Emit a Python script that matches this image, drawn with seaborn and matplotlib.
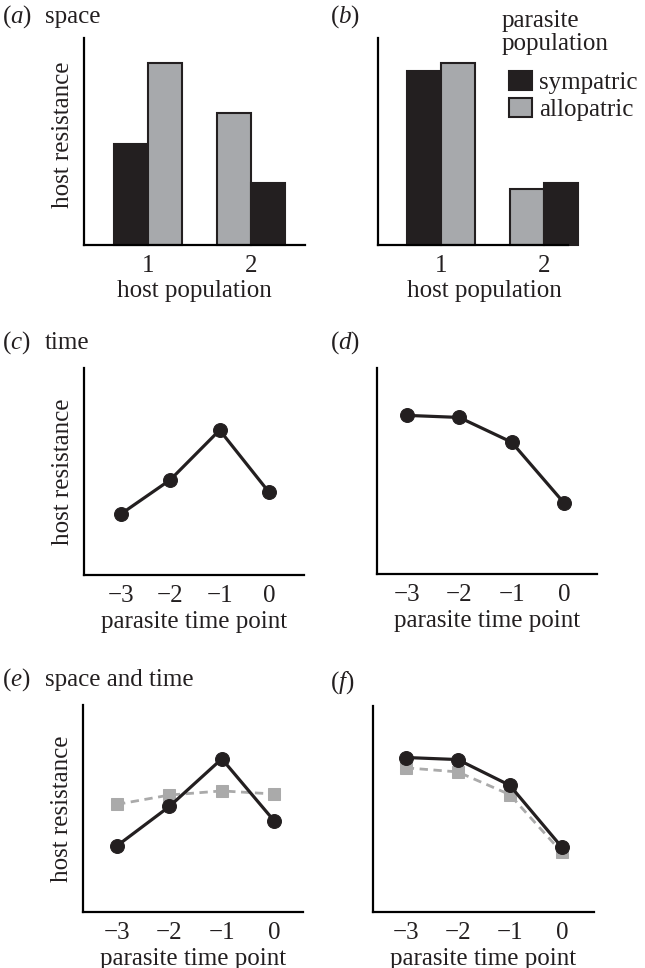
import numpy as np
import pandas as pd
import matplotlib
matplotlib.use('Agg')
import matplotlib.pyplot as plt
from matplotlib.patches import Patch
import seaborn as sns

sns.set_theme(style='ticks')
plt.rcParams['font.family'] = ['Liberation Serif', 'DejaVu Serif']
plt.rcParams['mathtext.fontset'] = 'custom'
plt.rcParams['mathtext.rm'] = 'Liberation Serif'
plt.rcParams['mathtext.it'] = 'Liberation Serif:italic'
plt.rcParams['axes.unicode_minus'] = True

# ---- data (y in 0..1 axis units) ----
host_pops = ['1', '2']
parasite_pops = ['1', '2']          # left bar = parasite pop 1, right bar = parasite pop 2
a_par1 = [0.49, 0.64]
a_par2 = [0.88, 0.30]
b_par1 = [0.84, 0.27]
b_par2 = [0.88, 0.30]

time_points = [-3, -2, -1, 0]
time_labels = ['\u22123', '\u22122', '\u22121', '0']
c_sym = [0.295, 0.46, 0.70, 0.40]
d_sym = [0.77, 0.76, 0.64, 0.345]
e_sym = [0.32, 0.51, 0.74, 0.44]
e_allo = [0.52, 0.565, 0.585, 0.57]
f_sym = [0.75, 0.74, 0.615, 0.315]
f_allo = [0.70, 0.68, 0.57, 0.29]

BLACK = '#231f20'
GREY = '#a7a9ac'
TXT = '#231f20'
FS = 18

W, H = 645, 968
fig = plt.figure(figsize=(W / 100, H / 100), dpi=100)


def box(l, r, t, b):
    return [l / W, 1 - b / H, (r - l) / W, (b - t) / H]


def style_axes(ax, ylabel=True):
    for s in ['top', 'right']:
        ax.spines[s].set_visible(False)
    for s in ['left', 'bottom']:
        ax.spines[s].set_linewidth(1.6)
        ax.spines[s].set_color('black')
    ax.set_yticks([])
    ax.tick_params(axis='x', length=0, pad=7, labelsize=FS, colors=TXT)
    ax.set_ylim(0, 1)
    ax.set_facecolor('white')
    if ylabel:
        ax.set_ylabel('host resistance', fontsize=FS, labelpad=7, color=TXT)
    else:
        ax.set_ylabel('')


def bar_panel(ax, par1, par2, ylabel):
    df = pd.DataFrame({
        'host': host_pops * 2,
        'parasite': [parasite_pops[0]] * 2 + [parasite_pops[1]] * 2,
        'resistance': par1 + par2,
    })
    sns.barplot(data=df, x='host', y='resistance', hue='parasite',
                hue_order=parasite_pops, order=host_pops, width=0.66, gap=0,
                palette=[GREY, GREY], edgecolor=BLACK, linewidth=1.5,
                legend=False, ax=ax)
    # sympatric = parasite pop matches host pop -> black
    for p_i, cont in enumerate(ax.containers):
        for h_i, bar in enumerate(cont):
            if p_i == h_i:
                bar.set_facecolor(BLACK)
            else:
                bar.set_facecolor(GREY)
            bar.set_edgecolor(BLACK)
            bar.set_clip_on(False)
    style_axes(ax, ylabel)
    ax.set_xlabel('host population', fontsize=FS, labelpad=2, color=TXT)


def line_panel(ax, sym, allo, ylabel):
    if allo is not None:
        sns.lineplot(x=time_points, y=allo, color='#aaaaaa', linewidth=2.0,
                     linestyle=(0, (3, 2)), marker='s', markersize=8,
                     markeredgecolor='#aaaaaa', ax=ax)
    sns.lineplot(x=time_points, y=sym, color=BLACK, linewidth=2.3,
                 marker='o', markersize=10, markeredgecolor=BLACK, ax=ax)
    for ln in ax.lines:
        ln.set_clip_on(False)
    style_axes(ax, ylabel)
    ax.set_xticks(time_points)
    ax.set_xticklabels(time_labels)
    ax.set_xlabel('parasite time point', fontsize=FS, labelpad=3, color=TXT)


# (a)
ax_a = fig.add_axes(box(84, 305, 38, 245))
bar_panel(ax_a, a_par1, a_par2, True)
ax_a.set_xlim(-0.62, 1.52)
ax_a.yaxis.label.set_y(0.534)

# (b)
ax_b = fig.add_axes(box(378, 590, 38, 245))
bar_panel(ax_b, b_par1, b_par2, False)
ax_b.set_xlim(-0.61, -0.61 + 212 / 103)
ax_b.spines['bottom'].set_bounds(-0.61, 1.23)

# (c)
ax_c = fig.add_axes(box(84, 304, 368, 575))
line_panel(ax_c, c_sym, None, True)
ax_c.set_xlim(-3.75, 0.71)

# (d)
ax_d = fig.add_axes(box(377, 597, 368, 574))
line_panel(ax_d, d_sym, None, False)
ax_d.set_xlim(-3.57, 0.63)

# (e)
ax_e = fig.add_axes(box(83, 303, 705, 912))
line_panel(ax_e, e_sym, e_allo, True)
ax_e.set_xlim(-3.65, 0.55)

# (f)
ax_f = fig.add_axes(box(373, 594, 706, 912))
line_panel(ax_f, f_sym, f_allo, False)
ax_f.set_xlim(-3.63, 0.62)

# panel labels
labels = [('a', 2, 17, 'space'), ('b', 330, 17, None),
          ('c', 2, 343, 'time'), ('d', 330, 343, None),
          ('e', 2, 680, 'space and time'), ('f', 330, 683, None)]
for letter, px, py, title in labels:
    fig.text(px / W, 1 - py / H, r'($\mathit{' + letter + r'}$)',
             fontsize=FS, va='center', ha='left', color=TXT)
    if title:
        fig.text(45 / W, 1 - py / H, title, fontsize=FS, va='center',
                 ha='left', color=TXT)

# legend in (b): title as text, entries as legend
fig.text(502 / W, 1 - 21 / H, 'parasite', fontsize=FS, va='center',
         ha='left', color=TXT)
fig.text(502 / W, 1 - 44 / H, 'population', fontsize=FS, va='center',
         ha='left', color=TXT)
handles = [Patch(facecolor=BLACK, edgecolor=BLACK, linewidth=1.5),
           Patch(facecolor=GREY, edgecolor=BLACK, linewidth=1.5)]
leg = fig.legend(handles, ['sympatric', 'allopatric'], fontsize=FS,
                 loc='upper left', bbox_to_anchor=(509 / W, 1 - 71 / H),
                 frameon=False, handlelength=0.92, handleheight=0.8,
                 handletextpad=0.3, labelspacing=0.15,
                 borderpad=0, borderaxespad=0)
for t in leg.get_texts():
    t.set_color(TXT)

fig.savefig('out.png', dpi=100, facecolor='white')
